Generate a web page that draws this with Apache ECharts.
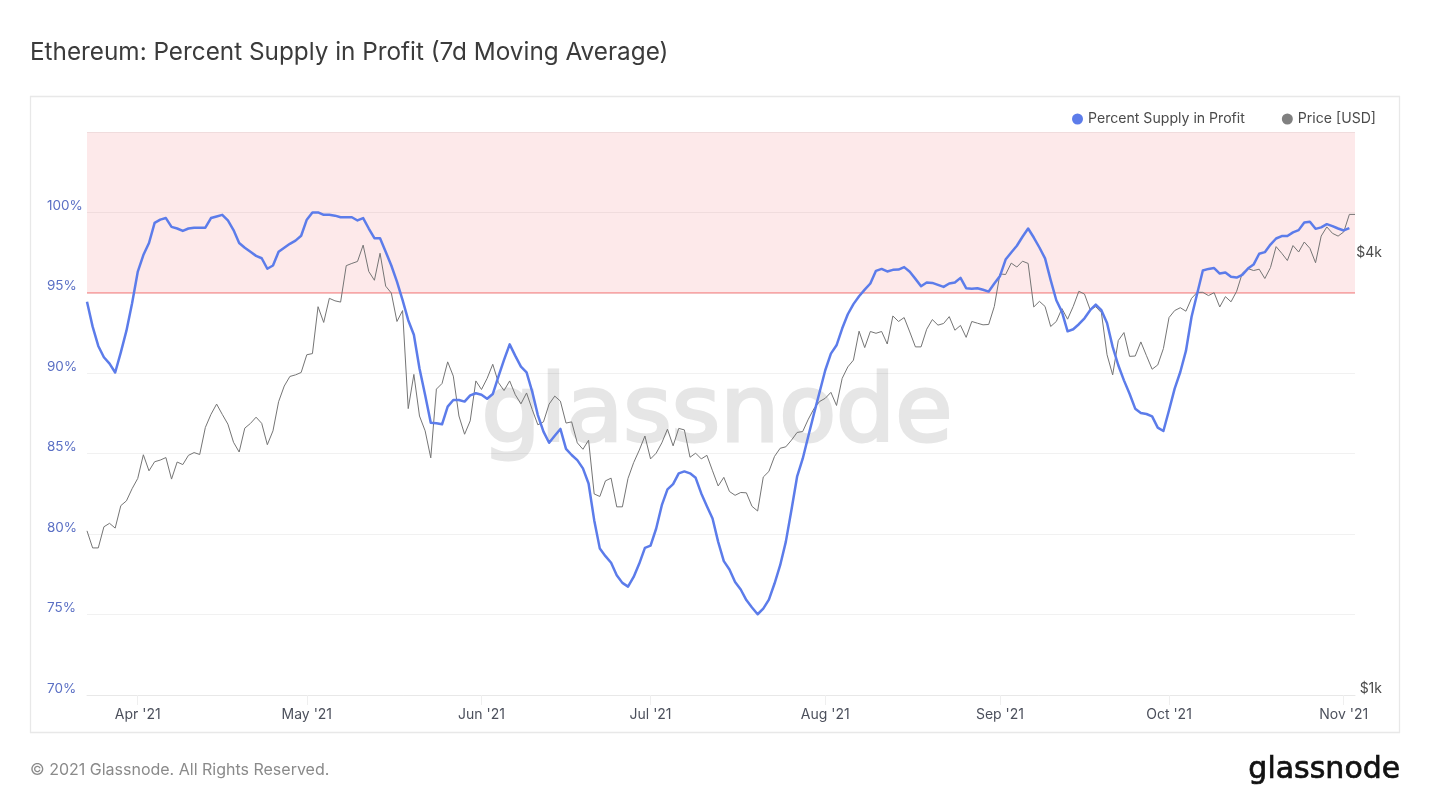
<!DOCTYPE html>
<html>
<head>
<meta charset="utf-8">
<title>Ethereum: Percent Supply in Profit</title>
<script src="https://cdn.jsdelivr.net/npm/echarts@6/dist/echarts.min.js"></script>
<style>html,body{margin:0;padding:0;background:#fff}#c{width:1430px;height:805px}</style>
</head>
<body>
<div id="c"></div>
<script>
const titleText = "Ethereum: Percent Supply in Profit (7d Moving Average)";
const copyrightText = "© 2021 Glassnode. All Rights Reserved.";
const brandText = "glassnode";
const supplyName = "Percent Supply in Profit";
const priceName = "Price [USD]";
const monthLabels = {"2021-04-01":"Apr '21","2021-05-01":"May '21","2021-06-01":"Jun '21","2021-07-01":"Jul '21","2021-08-01":"Aug '21","2021-09-01":"Sep '21","2021-10-01":"Oct '21","2021-11-01":"Nov '21"};
const priceTicks = [1000, 4000];
const supplyThreshold = 95;
const supplyAxisMax = 105;

const supplyPct = [
94.45,92.9,91.7,91.0,90.6,90.05,91.3,92.65,94.35,96.3,97.35,98.1,99.35,99.55,99.65,99.1,99.0,98.85,99.0,99.05,
99.05,99.05,99.65,99.75,99.85,99.5,98.9,98.1,97.8,97.55,97.3,97.15,96.5,96.7,97.55,97.8,98.05,98.25,98.55,99.55,
100.0,100.0,99.85,99.85,99.8,99.7,99.7,99.7,99.5,99.65,99.0,98.4,98.4,97.55,96.7,95.7,94.55,93.3,92.4,90.3,
88.65,86.93,86.9,86.83,87.93,88.34,88.34,88.24,88.63,88.76,88.67,88.42,88.71,89.79,90.83,91.8,91.08,90.41,90.06,88.86,
87.4,86.37,85.68,86.12,86.54,85.3,84.92,84.6,84.09,83.15,80.87,79.1,78.63,78.22,77.45,76.97,76.74,77.34,78.17,79.15,
79.29,80.35,81.8,82.78,83.11,83.78,83.9,83.78,83.5,82.53,81.74,80.97,79.52,78.32,77.8,77.03,76.56,75.9,75.44,75.02,
75.37,75.93,76.93,78.07,79.52,81.5,83.57,84.69,86.1,87.49,88.84,90.19,91.22,91.74,92.78,93.67,94.3,94.79,95.2,95.58,
96.37,96.49,96.33,96.43,96.45,96.6,96.31,95.87,95.41,95.64,95.62,95.5,95.37,95.58,95.64,95.93,95.29,95.25,95.29,95.19,
95.08,95.58,96.04,97.07,97.51,97.93,98.49,99.0,98.44,97.82,97.14,95.79,94.54,93.82,92.61,92.74,93.05,93.42,93.92,94.27,
93.92,93.13,91.64,90.5,89.56,88.73,87.8,87.53,87.47,87.32,86.62,86.41,87.7,89.05,90.08,91.39,93.51,94.96,96.39,96.49,
96.54,96.2,96.27,96.0,95.95,96.12,96.51,96.76,97.43,97.53,98.0,98.38,98.53,98.53,98.76,98.9,99.38,99.42,98.98,99.07,
99.27,99.15,99.0,98.88,99.03
];

const priceUsd = [
1686,1597,1597,1708,1727,1701,1827,1855,1928,1992,2148,2041,2101,2112,2129,1988,2099,2082,2144,2163,
2150,2343,2443,2524,2443,2368,2235,2167,2338,2373,2421,2374,2218,2318,2543,2673,2756,2770,2791,2953,
2964,3441,3273,3534,3506,3492,3921,3949,3974,4186,3849,3743,4079,3674,3594,3283,3399,2488,2774,2430,
2318,2127,2647,2695,2887,2759,2430,2293,2393,2717,2644,2739,2865,2703,2635,2717,2600,2526,2615,2481,
2363,2385,2524,2589,2548,2376,2385,2231,2186,2250,1896,1881,1977,1994,1820,1820,1992,2095,2180,2280,
2120,2159,2231,2330,2210,2336,2325,2131,2159,2120,2144,2041,1945,1999,1911,1888,1905,1903,1823,1796,
2001,2037,2137,2193,2203,2250,2306,2313,2406,2488,2545,2571,2620,2513,2739,2841,2903,3183,3021,3180,
3162,3180,3056,3341,3283,3324,3175,3028,3028,3203,3303,3245,3262,3334,3193,3242,3121,3283,3265,3248,
3252,3444,3820,3812,3953,3904,3977,3949,3438,3500,3444,3231,3283,3420,3307,3444,3614,3582,3410,3441,
3376,2953,2770,3090,3169,2938,2941,3076,2944,2820,2859,3012,3324,3399,3430,3392,3534,3602,3602,3565,
3598,3438,3553,3495,3614,3828,3885,3861,3877,3764,3897,4166,4079,3986,4180,4095,4228,4143,3958,4308,
4436,4346,4308,4365,4616,4616
];

const dates = [];
{
  const d0 = Date.UTC(2021, 2, 23);
  for (let i = 0; i < priceUsd.length; i++) {
    dates.push(new Date(d0 + i * 86400000).toISOString().slice(0, 10));
  }
}
const thresholdLine = dates.map(() => supplyThreshold);

const chart = echarts.init(document.getElementById('c'), null, {renderer: 'canvas', width: 1430, height: 805});
const isMonthStart = (i, v) => Object.prototype.hasOwnProperty.call(monthLabels, v);
const FONT = 'Inter, "Noto Sans", sans-serif';

chart.setOption({
  animation: false,
  backgroundColor: '#ffffff',
  textStyle: {fontFamily: FONT},
  title: {
    text: titleText, left: 25, top: 33,
    textStyle: {fontFamily: FONT, fontSize: 24.3, fontWeight: 400, color: '#3b3b3b', lineHeight: 30}
  },
  legend: {
    data: [supplyName, priceName], right: 49, top: 107, icon: 'circle',
    itemWidth: 11, itemHeight: 11, itemGap: 37,
    textStyle: {fontFamily: FONT, fontSize: 14.1, color: '#4a4a4a'}
  },
  grid: {left: 87, right: 75, top: 132, bottom: 110, containLabel: false},
  xAxis: {
    type: 'category', data: dates, boundaryGap: false,
    axisLine: {lineStyle: {color: '#e8e8e8', width: 1}},
    axisTick: {show: true, length: 10, interval: isMonthStart, lineStyle: {color: '#efefef'}},
    axisLabel: {interval: isMonthStart, formatter: v => monthLabels[v] || '', color: '#4c505c', fontSize: 14, margin: 13, fontFamily: FONT},
    splitLine: {show: false}
  },
  yAxis: [{
    type: 'value', min: 70, max: supplyAxisMax, interval: 5, position: 'left',
    axisLine: {show: false}, axisTick: {show: false},
    axisLabel: {formatter: v => v > 100 ? '' : v + '%', color: '#5a6fc4', fontSize: 13.5, lineHeight: 13, align: 'left', verticalAlign: 'bottom', margin: 40, fontFamily: FONT},
    splitLine: {lineStyle: {color: 'rgba(0,0,0,0.055)', width: 1}}
  }, {
    type: 'log', logBase: 10, min: 1000, max: 6000, position: 'right',
    axisLine: {show: false}, axisTick: {show: false}, splitLine: {show: false}, minorTick: {show: false},
    axisLabel: {customValues: priceTicks, formatter: v => '$' + Math.round(v / 1000) + 'k', color: '#4a4a4a', fontSize: 14, lineHeight: 13, align: 'right', verticalAlign: 'bottom', margin: 27, fontFamily: FONT}
  }],
  graphic: [
    {type: 'rect', z: -1, silent: true, shape: {x: 30.5, y: 96.5, width: 1369, height: 636}, style: {fill: 'none', stroke: '#e8e8e8', lineWidth: 1.3}},
    {type: 'text', z: 0, silent: true, left: 480, top: 369, style: {text: brandText, fontFamily: '"DejaVu Sans"', fontSize: 93, fill: '#e6e6e6', stroke: '#e6e6e6', lineWidth: 3}},
    {type: 'text', silent: true, left: 30, top: 762, style: {text: copyrightText, fontFamily: FONT, fontSize: 16, fill: '#8a8a8a'}},
    {type: 'text', silent: true, left: 1248, top: 755, style: {text: brandText, fontFamily: '"DejaVu Sans"', fontSize: 30, fill: '#111111', stroke: '#111111', lineWidth: 0.7}}
  ],
  series: [{
    name: 'Profit zone', type: 'line', yAxisIndex: 0, data: thresholdLine, z: 2, silent: true, showSymbol: false, symbol: 'none',
    lineStyle: {color: '#f78f8f', width: 1.2}, itemStyle: {color: '#f78f8f'},
    markArea: {silent: true, itemStyle: {color: 'rgba(235,60,70,0.115)'}, data: [[{yAxis: supplyThreshold}, {yAxis: supplyAxisMax}]]}
  }, {
    name: priceName, type: 'line', yAxisIndex: 1, data: priceUsd, showSymbol: false, symbol: 'none', smooth: false,
    lineStyle: {color: '#757575', width: 1}, itemStyle: {color: '#808080'}, z: 3
  }, {
    name: supplyName, type: 'line', yAxisIndex: 0, data: supplyPct, showSymbol: false, symbol: 'none', smooth: false,
    lineStyle: {color: '#5c7cea', width: 2.5, join: 'round'}, itemStyle: {color: '#5c7cea'}, z: 4
  }]
});
</script>
</body>
</html>
